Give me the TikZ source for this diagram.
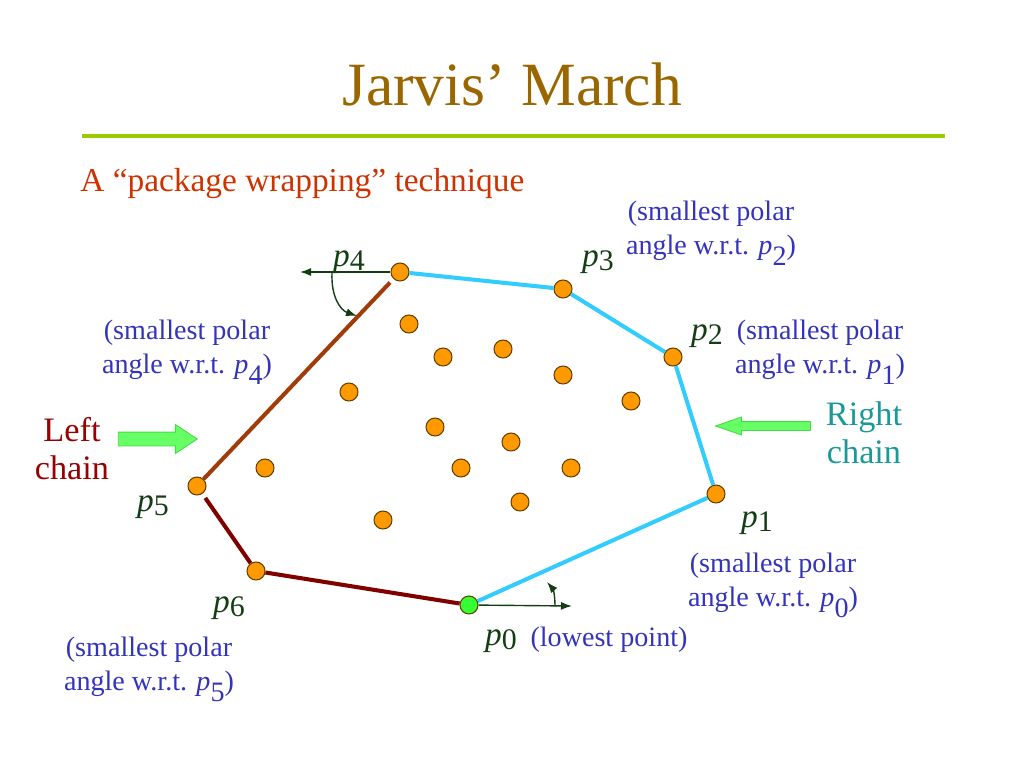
\documentclass[tikz,border=0pt]{standalone}
\usepackage{fontspec}
\setmainfont{Liberation Serif}
\usetikzlibrary{shapes.arrows,arrows.meta}

\definecolor{titlebrown}{HTML}{996600}
\definecolor{rulegreen}{HTML}{99CC00}
\definecolor{subred}{HTML}{CC3300}
\definecolor{noteblue}{HTML}{3333BB}
\definecolor{lblgreen}{HTML}{143D14}
\definecolor{hullcyan}{HTML}{33CCFF}
\definecolor{hullsienna}{HTML}{A03C0A}
\definecolor{hullred}{HTML}{800000}
\definecolor{dotorange}{HTML}{FF9900}
\definecolor{dotedge}{HTML}{664000}
\definecolor{lowgreen}{HTML}{33FF33}
\definecolor{chainred}{HTML}{990000}
\definecolor{chainteal}{HTML}{1A9999}
\definecolor{fatfill}{HTML}{66FF66}
\definecolor{fatedge}{HTML}{44DD44}

% point labels and notes
\newcommand{\pl}[1]{{\fontsize{19}{22}\selectfont\textit{p}}\raisebox{-0.3ex}{#1}}
\newcommand{\wrt}[1]{\textit{p}\raisebox{-0.85ex}{#1})}

\tikzset{
  dot/.style={circle,draw=dotedge,fill=dotorange,minimum size=3.6mm,inner sep=0pt,line width=0.6pt},
  lbl/.style={anchor=base,text=lblgreen,inner sep=0pt,font=\fontsize{17}{20}\selectfont},
  note/.style={text=noteblue,align=center,inner sep=0pt,font=\fontsize{16}{19.3}\selectfont},
  chain/.style={align=center,inner sep=0pt,font=\fontsize{19.5}{21.6}\selectfont},
  ray/.style={draw=lblgreen,line width=0.8pt,-{Latex[length=2.2mm,width=1.6mm]}},
  fatarrow/.style={single arrow,draw=fatedge,fill=fatfill,line width=0.5pt,inner xsep=0pt}
}

\begin{document}
\begin{tikzpicture}[x=0.02cm,y=-0.02cm]
\useasboundingbox (0,0) rectangle (1024,768);
% Title
\node at (512,105) [anchor=base,text=titlebrown,font=\fontsize{35}{42}\selectfont] (Title) {Jarvis’ March};
\draw [rulegreen,line width=2pt] (82,136) -- (945,136);
\node at (80,191) [anchor=base west,inner sep=0pt,text=subred,font=\fontsize{19}{23}\selectfont] (Sub) {A “package wrapping” technique};
% Hull Points
\node at (469,605) [dot,fill=lowgreen] (P0) {};
\node at (716,494) [dot] (P1) {};
\node at (673,357) [dot] (P2) {};
\node at (563,289) [dot] (P3) {};
\node at (400,272) [dot] (P4) {};
\node at (197,486) [dot] (P5) {};
\node at (256,571) [dot] (P6) {};
% Inner Points
\node at (409,324) [dot] (Q1) {};
\node at (443,357) [dot] (Q2) {};
\node at (503,349) [dot] (Q3) {};
\node at (563,375) [dot] (Q4) {};
\node at (631,401) [dot] (Q5) {};
\node at (349,392) [dot] (Q6) {};
\node at (435,427) [dot] (Q7) {};
\node at (511,442) [dot] (Q8) {};
\node at (265,468) [dot] (Q9) {};
\node at (461,468) [dot] (Q10) {};
\node at (571,468) [dot] (Q11) {};
\node at (520,502) [dot] (Q12) {};
\node at (383,520) [dot] (Q13) {};
% Hull Edges
\draw [hullcyan,line width=2.3pt] (P0) -- (P1);
\draw [hullcyan,line width=2.3pt] (P1) -- (P2);
\draw [hullcyan,line width=2.3pt] (P2) -- (P3);
\draw [hullcyan,line width=2.3pt] (P3) -- (P4);
\draw [hullsienna,line width=2.3pt,shorten <=1mm] (P4) -- (P5);
\draw [hullred,line width=2.3pt,shorten <=1mm] (P5) -- (P6);
\draw [hullred,line width=2.3pt] (P6) -- (P0);
% Polar Angles
\coordinate (Ray4) at (300,272);
\coordinate (Arc4a) at (332,273);
\coordinate (Arc4b) at (357,316);
\draw [ray] (P4) -- (Ray4);
\draw [ray] (Arc4a) .. controls (331,296) and (340,310) .. (Arc4b);
\coordinate (Ray0) at (572,606);
\coordinate (Arc0a) at (555,606);
\coordinate (Arc0b) at (547,582);
\draw [ray] (P0) -- (Ray0);
\draw [ray] (Arc0a) .. controls (555,595) and (553,589) .. (Arc0b);
% Point Labels
\node [lbl] at (501,645) {\pl{0}};
\node [lbl] at (757,527) {\pl{1}};
\node [lbl] at (707,340) {\pl{2}};
\node [lbl] at (598,266) {\pl{3}};
\node [lbl] at (349,266) {\pl{4}};
\node [lbl] at (153,511) {\pl{5}};
\node [lbl] at (229,612) {\pl{6}};
% Notes
\node at (711,233) [note] (Note3) {(smallest polar\\angle w.r.t. \wrt{2}};
\node at (820,352) [note] (Note2) {(smallest polar\\angle w.r.t. \wrt{1}};
\node at (187,352) [note] (Note5) {(smallest polar\\angle w.r.t. \wrt{4}};
\node at (773,585) [note] (Note1) {(smallest polar\\angle w.r.t. \wrt{0}};
\node at (149,669) [note] (Note6) {(smallest polar\\angle w.r.t. \wrt{5}};
\node at (609,646) [note,anchor=base] (Low) {(lowest point)};
% Chains
\node at (72,449) [chain,text=chainred] (LeftChain) {Left\\chain};
\node at (864,433) [chain,text=chainteal] (RightChain) {Right\\chain};
\node at (152.5,439) [fatarrow,minimum height=1.58cm,inner ysep=1.3mm,single arrow head extend=0.15cm,single arrow tip angle=67] (LeftArrow) {};
\node at (769.5,426) [fatarrow,shape border rotate=180,minimum height=1.9cm,inner ysep=0.8mm,single arrow head extend=0.09cm,single arrow tip angle=38] (RightArrow) {};
\end{tikzpicture}
\end{document}
